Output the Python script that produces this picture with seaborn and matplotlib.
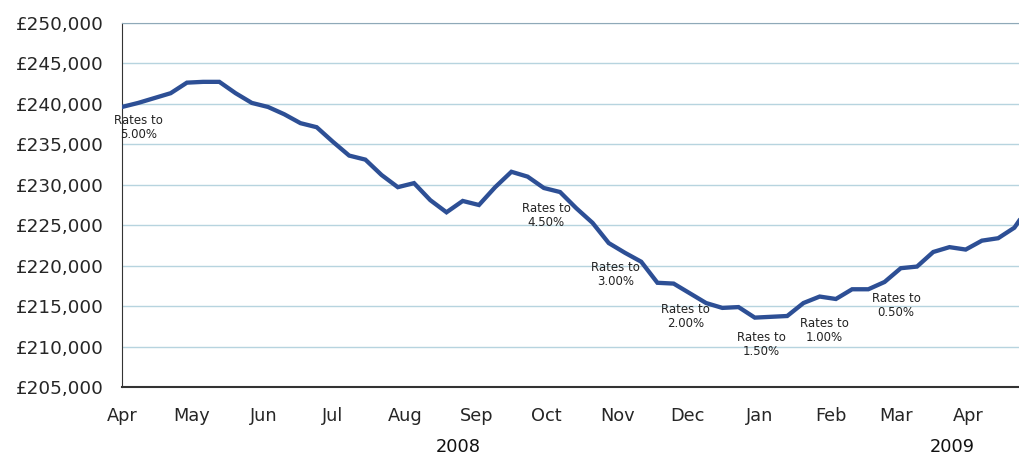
import pandas as pd
import numpy as np
import matplotlib
matplotlib.use('Agg')
import matplotlib.pyplot as plt
import matplotlib.dates as mdates
import matplotlib.transforms as mtransforms
import seaborn as sns

# weekly average house price, from 1 Apr 2008
first_week = '2008-04-01'
prices = [239600, 240100, 240700, 241300, 242600, 242700, 242700, 241300,
          240100, 239600, 238700, 237600, 237100, 235300, 233600, 233100,
          231200, 229700, 230200, 228100, 226600, 228000, 227500, 229700,
          231600, 231000, 229600, 229100, 227100, 225300, 222800, 221600,
          220500, 217900, 217800, 216600, 215400, 214800, 214900, 213600,
          213700, 213800, 215400, 216200, 215900, 217100, 217100, 218000,
          219700, 219900, 221700, 222300, 222000, 223100, 223400, 224700,
          227600]

# interest rate cuts
rate_labels = ['Rates to\n5.00%', 'Rates to\n4.50%', 'Rates to\n3.00%', 'Rates to\n2.00%',
               'Rates to\n1.50%', 'Rates to\n1.00%', 'Rates to\n0.50%']
# where the notes sit (date, price)
note_dates = ['2008-04-08', '2008-10-01', '2008-10-31', '2008-11-30',
              '2009-01-02', '2009-01-29', '2009-03-01']
note_prices = [237100, 226150, 218900, 213700, 210300, 212000, 215100]

years = ['2008', '2009']
year_dates = ['2008-08-24', '2009-03-25']

df = pd.DataFrame({'week': pd.date_range(first_week, periods=len(prices), freq='7D'),
                   'price': prices})

sns.set_style('white')
plt.rcParams['font.family'] = ['DejaVu Sans']

fig = plt.figure(figsize=(10.19, 4.55), dpi=100)
ax = fig.add_axes([122 / 1019, 1 - 387.3 / 455, 1 - 122 / 1019, (387.3 - 22.7) / 455])

sns.lineplot(data=df, x='week', y='price', ax=ax, color='#2d4f95', linewidth=3.1,
             solid_joinstyle='miter', zorder=3)

ax.set_xlim(pd.Timestamp('2008-04-01'), pd.Timestamp('2009-04-23'))
ax.set_ylim(205000, 250000)
ax.set_yticks(np.arange(205000, 250001, 5000))
ax.set_yticklabels(['£{:,.0f}'.format(v) for v in np.arange(205000, 250001, 5000)], fontsize=13.2)

ax.xaxis.set_major_locator(mdates.MonthLocator())
ax.xaxis.set_major_formatter(mdates.DateFormatter('%b'))
ax.tick_params(axis='x', direction='inout', length=10, width=1, color='#333333',
               labelsize=12.8, pad=9)
ax.tick_params(axis='y', direction='out', length=7, width=1, color='#333333', pad=6)
ax.set_xlabel('')
ax.set_ylabel('')

ax.grid(axis='y', color='#b7d4df', linewidth=1)
ax.grid(axis='x', visible=False)
ax.spines['right'].set_visible(False)
ax.spines['top'].set_color('#8fa9b8')
ax.spines['left'].set_color('#333333')
ax.spines['bottom'].set_color('#333333')
ax.spines['bottom'].set_linewidth(1.5)

for lab, d, p in zip(rate_labels, note_dates, note_prices):
    ax.text(pd.Timestamp(d), p, lab, fontsize=8.5, ha='center', va='center',
            color='#222222', linespacing=1.1, zorder=4)

trans = mtransforms.blended_transform_factory(ax.transData, ax.transAxes)
for y, d in zip(years, year_dates):
    ax.text(pd.Timestamp(d), -0.165, y, transform=trans, fontsize=12.8,
            ha='center', va='center', color='#111111')

fig.savefig('out.png', dpi=100)
